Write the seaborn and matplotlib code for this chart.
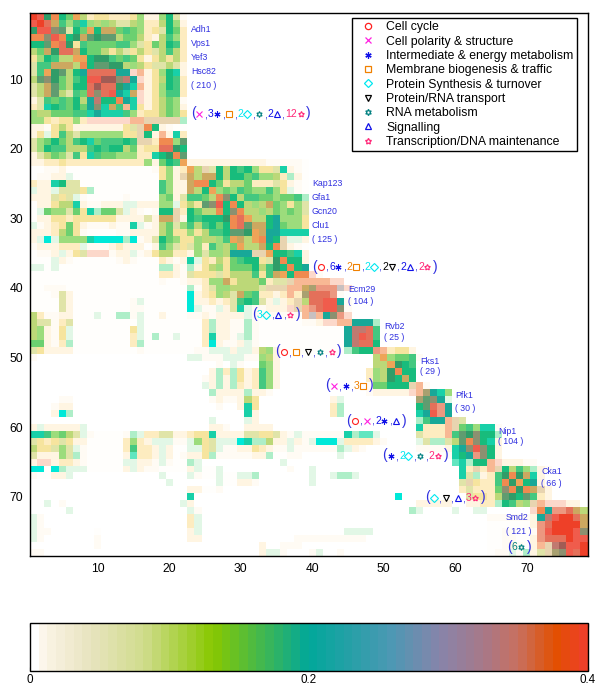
import matplotlib
matplotlib.use("Agg")
import matplotlib.pyplot as plt
from matplotlib.cm import ScalarMappable
from matplotlib.colors import LinearSegmentedColormap, ListedColormap, Normalize
from matplotlib.lines import Line2D
import numpy as np
import seaborn as sns

W, H = 595, 687
V_MAX = 0.4

# one character = one cell, from low to high value
levels = ".abc1de2fgh3ijklmnopqDrsCtuvEwxBAyz"
level_colors = ["#ffffff", "#fffefc", "#fffbf4", "#fff5e2", "#e2f7e6", "#fdecc0", "#f6e49e",
                "#aeeec8", "#e0e4a8", "#bcd878", "#9cdc7c", "#60e6c0", "#6cd070", "#44c880",
                "#18bc7c", "#18d0a8", "#00e8d8", "#18a898", "#309c68", "#609c70", "#8c9070",
                "#c8c0c0", "#a8a070", "#cca860", "#e8d4b0", "#eea458", "#f8b894", "#fcd8ca",
                "#ec9880", "#f08a50", "#e4705a", "#c07a70", "#a05c55", "#f05c4c", "#ee4028"]

# (first column, cells) pieces for rows 1..78
heat_rows = [
    [(1, "zyowkitgdeedddehcchkfb")],
    [(1, "yzxsjhjlhghgffghddgkhc")],
    [(1, "oyyqpfkitkssijihdefkid")],
    [(1, "wwqywkospoppgiigdcgjhd")],
    [(1, "kkpwxoejiiiijjhfeigkjd")],
    [(1, "gisoxxskiigegfegefgjgd")],
    [(1, "ehkjggttkoojijiecegegd")],
    [(1, "fjjsssgwkppooghgeffgfc")],
    [(1, "fjtopgknxxxxnnvucehklc")],
    [(1, "gpqoigjkyyAAqBnvcegkjd")],
    [(1, "fgspigkkxAxxonlucehkjd")],
    [(1, "fgspgfjixqxynlsvcehjjd")],
    [(1, "cfjijikgnBkkwnlvcegihb")],
    [(1, "dflkjikinqlsjulecegihc")],
    [(1, "hggiiijjlnllljhdeegihe")],
    [(1, "hhedeehdvvvvvvuuCCCCC2")],
    [(1, "ccbegecccccccefCwkcbaa")],
    [(1, "ce1ejgfhhhhhheeCkcucld")],
    [(1, "fhikigjklijjjkjCCdwwhp")],
    [(1, "fhkjjgggjkjkkgideexxok")],
    [(1, "cfgihfjeljiihhhddlkowp")],
    [(1, "ccddedddddddddddhcikjtcccccccccccbbbbba")],
    [(1, "aabbcaaaaaaaaaaaabehcdtgCfkgkjkheeflcba")],
    [(1, "abbcc1aaaaaaaaaaaaehcCsgsskgkkijhhgd2ca")],
    [(1, "dcclkffaaaaaaaaaaajhccswwkieggidddfecba")],
    [(1, "1cc1fffe2aaaaaaaaajhccsgkthihjihhjhe1ba")],
    [(1, "cccfef1baaaaabaaaahicfjjigwqkgjjiihiij2")],
    [(1, "accegglcbbccc11ccchh1egepqykwkghgsihehf")],
    [(1, "a1ihhfiel2iif1cbabkkCdkiggwkqwgghgihihf")],
    [(1, "acceedeeeeeeccccfcssCckjkkkowxtggknhhhe")],
    [(1, "1bcdeiecbbbcbbl1bcgifhjgjkikwxpssknihhe")],
    [(1, "cccdgiebaaaabbccccgieehegjjkppotsnnllll")],
    [(1, "c1m1hhhhlmmmm2mbcfkiheehgghjtsgtwnkC11c")],
    [(1, "bcccddd1bbbcdcccacjhfefhdjhgitggskwCcba")],
    [(1, "abbc1cefvvvbcc1bceggddchfhhgnnnCCtkkjlc")],
    [(1, "aaa1cbaaaaaabcbaaadcbcl1edgeijkkefowkkc")],
    [(1, "11a1aaaaaaaaaaaaaa22cb2cegheiiikgjokwkn")],
    [(1, "aaaaaaaaaaaaaaaaaaddcbfeeefegggjejstkwwvb")],
    [(1, "aaaaaaaaaaaaaaaaaabaabccdhhsegggidffCuuuuuvv")],
    [(1, "aabbbaaaaaaaaaaaaaaaaa2bdfhhggggfCCCuusrEEEDv")],
    [(1, "aaabfcaaaaaaaaaaaaaaaamcdehgfsijddcdudrxxxEb")],
    [(1, "aaaafcaaaaaaaab1aaaaaamccdcdfjkjfc1cdCgxxyynb")],
    [(1, "aaaafcaaaaaaaabbaaaaaam1bb1cfl1bbcccvCuExyyqb")],
    [(1, "gdbbccaaa1aa22b1aacaaabbcbcccc1bbbbbbbuDunqEv")],
    [(1, "gffbdfaaaaaaaaa1aaaaaaaad2ccbb2baaaaaabbcvvuunnn2")],
    [(1, "ghcbe1aaaaaaaae1aaaaaaaad2ccbb2baaaaaaaaaaaanBBxj")],
    [(1, "ghcbe1aaaaaaaad1a2aa1aaadlccb12baaaaaaaaaaaanByxj")],
    [(1, "iicbd2aaaaaaaad2aaaaaaaadmcbbc1baaaaaaaaaaaanBxxk")],
    [(1, "feccccaaaaaaaaabaaaaaaabb111c11cghcaaaaaaaaa2jkkEudeec")],
    [(1, "b"), (23, "11bbb111bbhgc"), (49, "gthiijb")],
    [(27, "b.1b"), (33, "ihc"), (49, "ggtokj")],
    [(26, "c2d2ecdjhc"), (48, "dhgowkk")],
    [(25, "bc2c2ecdjhc"), (48, "dhgoksk")],
    [(25, "1c2c2dcdjhc"), (48, "biikkkCub")],
    [(26, "2cccc2ccb"), (48, "bcccccvurnlh")],
    [(5, "bb"), (26, "bcbbcge"), (43, "c1"), (55, "rpqn1")],
    [(4, "bcc"), (27, "b"), (30, "cle"), (43, "d2"), (55, "kpxEn")],
    [(4, "cm2"), (31, "lc"), (43, "d2"), (55, "lnyEn")],
    [(26, "1"), (31, "1c"), (55, "2jnnuCf")],
    [(1, "c1ccccc1"), (26, "ccb"), (31, "cccc"), (55, "lddduCijhllb")],
    [(1, "lljhigf1baaaab21ddffccdeelccccffeefcb1bbbbbbl2331"), (55, "fdddujpoqkk2")],
    [(1, "fedefeccaaaaadhdc111bb1hef111ml22gcc1cb1mmm1ddddcb"), (55, "1f22fgpwqklc")],
    [(1, "geefhf1baaaaadjddc1caa11ef1bbccedcbb1bbbbbb21cb"), (55, "bbbbclnqyqkc")],
    [(1, "fccchf2baaaaac3ddc1cabcce2bbbbbcc2aabb"), (44, "1"), (59, "blknEqkc")],
    [(1, "cvvcddcbaaaaa11ccb1baa21"), (36, "1"), (60, "3l2kkuvcccbb")],
    [(1, "mmam2111aaaaac1cbbaaaac1aa1"), (37, "b"), (40, "1"), (61, "ldCduCkgjh2cb")],
    [(1, "baacc1"), (19, "1"), (23, "1baa1aa112"), (40, "1"), (43, "1221"), (61, "lf2cdjowoslc")],
    [(20, "1"), (27, "1aaccb"), (40, "1"), (61, "fCeddjwotknc")],
    [(23, "ccaab"), (61, "dfdddiqwowsCc")],
    [(23, "l"), (52, "m"), (62, "feedgpokpjdc")],
    [(3, "1.b"), (22, "1c"), (55, "ccccc"), (62, "ccdd2kjghCuvvvcc")],
    [(6, "1"), (23, "1b"), (54, "21"), (60, "1"), (63, "11"), (71, "vwnEExsg")],
    [(1, "1b"), (23, "d1"), (65, "bbbbbbcnByzzxs")],
    [(1, "1b"), (23, "d1"), (65, "aaaaaacExzzzzs")],
    [(1, "1bb"), (10, "a"), (23, "c1"), (45, "1111"), (65, "aabbaabEyzzzyq")],
    [(1, "1b"), (10, "b"), (23, "cc"), (38, "bbbbbbbbbb"), (65, "aabbaacExxxzyy")],
    [(10, "b"), (33, "c"), (36, "bbb"), (65, "aabcbacuCBAyyz")],
    [(1, "bb"), (33, "c11b"), (40, "b1"), (44, "b"), (65, "abb1b2cfCrqyxz")],
]

tick_values = [10, 20, 30, 40, 50, 60, 70]
cbar_ticks = [0, 0.2, 0.4]
cbar_labels = ["0", "0.2", "0.4"]

categories = ["Cell cycle", "Cell polarity & structure", "Intermediate & energy metabolism",
              "Membrane biogenesis & traffic", "Protein Synthesis & turnover",
              "Protein/RNA transport", "RNA metabolism", "Signalling",
              "Transcription/DNA maintenance"]
cat_colors = ["#ff2020", "#ff20e0", "#1010e8", "#f08000", "#00e8f0", "#000000", "#008080", "#1010e8", "#ff2878"]
cat_markers = ["o", "x", (6, 2, 0), "s", "D", "v", (6, 1, 0), "^", (5, 1, 0)]

# gene name labels, position in picture pixels
gene_labels = [("Adh1", 191, 30), ("Vps1", 191, 44), ("Yef3", 191, 58), ("Hsc82", 191, 72), ("( 210 )", 191, 86),
               ("Kap123", 312, 183), ("Gfa1", 312, 197), ("Gcn20", 312, 211), ("Clu1", 312, 225), ("( 125 )", 312, 239),
               ("Ecm29", 348, 290), ("( 104 )", 348, 302), ("Rvb2", 384, 326), ("( 25 )", 384, 337),
               ("Fks1", 420, 361), ("( 29 )", 420, 372), ("Pfk1", 455, 396), ("( 30 )", 455, 408),
               ("Nip1", 498, 431), ("( 104 )", 498, 442), ("Cka1", 541, 472), ("( 66 )", 541, 483),
               ("Smd2", 506, 518), ("( 121 )", 506, 532)]

# function summaries: start x, y, (count, category index) pieces
groups = [
    (191, 114, [("", 1), ("3", 2), ("", 3), ("2", 4), ("", 6), ("2", 7), ("12", 8)]),
    (312, 267, [("", 0), ("6", 2), ("2", 3), ("2", 4), ("2", 5), ("2", 7), ("2", 8)]),
    (252, 315, [("3", 4), ("", 7), ("", 8)]),
    (275, 352, [("", 0), ("", 3), ("", 5), ("", 6), ("", 8)]),
    (325, 386, [("", 1), ("", 2), ("3", 3)]),
    (346, 421, [("", 0), ("", 1), ("2", 2), ("", 7)]),
    (382, 456, [("", 2), ("2", 4), ("", 6), ("2", 8)]),
    (425, 498, [("", 4), ("", 5), ("", 7), ("3", 8)]),
    (507, 547, [("6", 6)]),
]


def decode_rows(rows):
    grid = np.zeros((78, 78))
    for r, pieces in enumerate(rows):
        for start, cells in pieces:
            for k, ch in enumerate(cells):
                grid[r, start - 1 + k] = levels.index(ch) / (len(levels) - 1) * V_MAX
    return grid


sns.set_theme(style="white")
plt.rcParams["font.family"] = ["Liberation Sans", "DejaVu Sans"]

fig = plt.figure(figsize=(W / 100, H / 100), dpi=100)
ax = fig.add_axes([30 / W, 1 - 556 / H, 557.5 / W, 543 / H])

sns.heatmap(decode_rows(heat_rows), cmap=ListedColormap(level_colors), vmin=0, vmax=V_MAX,
            cbar=False, ax=ax, xticklabels=False, yticklabels=False)

ax.set_xticks(np.array(tick_values) - 0.5, [str(v) for v in tick_values])
ax.set_yticks(np.array(tick_values) - 0.5, [str(v) for v in tick_values], rotation=0)
ax.tick_params(direction="in", length=4, width=0.8, top=True, right=True, bottom=True, left=True,
               labelsize=8.7, color="black", labelcolor="black", pad=5)
for spine in ax.spines.values():
    spine.set_visible(True)
    spine.set_linewidth(1.0)
    spine.set_color("black")


def px(x, y):
    return x / W, 1 - y / H


for name, x, y in gene_labels:
    fig.text(*px(x, y), name, color="#3030e0", fontsize=6.3, va="center", ha="left")


def put_text(x, y, s, color, size=7.5):
    fig.text(*px(x, y), s, color=color, fontsize=size, va="center", ha="left")


def put_marker(x, y, idx, size=4.3):
    mark = cat_markers[idx]
    line = Line2D([x / W], [1 - y / H], transform=fig.transFigure, marker=mark, ms=size,
                  mfc=cat_colors[idx] if idx == 2 else "none", mec=cat_colors[idx], mew=0.8, ls="")
    fig.add_artist(line)


for x, y, parts in groups:
    put_text(x, y - 0.5, "(", "#3030e0", size=10)
    x += 5
    for n, (count, idx) in enumerate(parts):
        if count:
            put_text(x, y, count, cat_colors[idx], size=7.5)
            x += 5.8 * len(count)
        put_marker(x + 3.5, y, idx)
        x += 8
        if n < len(parts) - 1:
            put_text(x, y + 1, ",", "#3030e0", size=7.5)
            x += 4
    put_text(x + 1, y - 0.5, ")", "#3030e0", size=10)

handles = [Line2D([], [], marker=m, color=c, ls="", ms=4.5, mew=0.9,
                  mfc=c if i == 2 else "none", mec=c)
           for i, (m, c) in enumerate(zip(cat_markers, cat_colors))]
leg = ax.legend(handles, categories, loc="upper left", bbox_to_anchor=px(352, 18),
                bbox_transform=fig.transFigure, fontsize=8.8, frameon=True, fancybox=False,
                framealpha=1, edgecolor="black", labelspacing=0.19, borderaxespad=0,
                handletextpad=0.5, borderpad=0.28, handlelength=2.0, labelcolor="black")
leg.get_frame().set_linewidth(1.0)

# colour bar below the map
cbar_cmap = LinearSegmentedColormap.from_list(
    "bar",
    [(0, "#ffffff"), (0.02, "#fbf4e6"), (0.1, "#e8e4c0"), (0.2, "#d0dc8c"), (0.325, "#88c800"),
     (0.5, "#00a89a"), (0.65, "#4c98b4"), (0.74, "#8884aa"), (0.82, "#a87888"), (0.88, "#c87060"),
     (0.95, "#e25000"), (1, "#ee4028")], N=64)
cax = fig.add_axes([30 / W, 1 - 671 / H, 557.5 / W, 48.5 / H])
cb = fig.colorbar(ScalarMappable(Normalize(0, V_MAX), cbar_cmap), cax=cax, orientation="horizontal",
                  ticks=cbar_ticks)
cb.ax.set_xticklabels(cbar_labels)
cb.ax.tick_params(direction="in", length=3, width=0.8, top=True, bottom=True, labelsize=8.4,
                  color="black", labelcolor="black", pad=2)
cb.outline.set_linewidth(1.0)
cb.outline.set_edgecolor("black")

fig.savefig("out.png", dpi=100)
plt.close(fig)
